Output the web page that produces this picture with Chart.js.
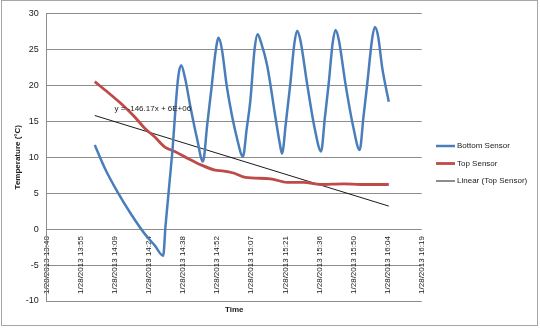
<!DOCTYPE html>
<html>
<head>
<meta charset="utf-8">
<script src="https://cdn.jsdelivr.net/npm/chart.js@4.4.0/dist/chart.umd.min.js"></script>
<style>
  html, body { margin: 0; padding: 0; background: #fff; }
  #wrap { position: relative; width: 540px; height: 329px; }
</style>
</head>
<body>
<div id="wrap"><canvas id="c" width="540" height="329"></canvas></div>
<script>
// Times are minutes after midnight on 1/28/2013.
const bottomTime = [841.1, 845.3, 851.0, 856.6, 862.3, 866.5, 870.0, 871.0, 873.8, 876.3, 877.6,
  879.3, 881.4, 884.3, 886.8, 888.6, 890.5, 892.1, 893.4, 894.8, 896.9, 901.2, 903.7,
  905.3, 906.8, 908.6, 909.9, 911.3, 913.9, 917.4, 919.2, 920.2,
  921.9, 923.7, 925.4, 926.6, 928.0, 930.8, 934.0, 936.7,
  938.3, 939.9, 941.6, 942.8, 944.2, 947.0, 950.3, 953.0,
  954.6, 956.2, 958.2, 959.4, 960.8, 962.5, 965.3];
const bottomTemp = [11.7, 8.5, 5.0, 2.0, -0.7, -2.3, -3.7, 0.5, 10.5, 21.0, 22.8,
  20.9, 17.2, 12.6, 9.4, 14.5, 19.9, 24.6, 26.6, 25.0, 19.8, 12.6, 10.1,
  14.0, 17.8, 25.0, 27.1, 26.0, 22.8, 15.6, 12.0, 10.5,
  15.0, 20.2, 25.8, 27.6, 26.2, 20.2, 14.0, 10.8,
  15.5, 20.2, 25.9, 27.7, 26.3, 20.2, 14.2, 11.0,
  15.6, 20.2, 26.3, 28.1, 26.8, 22.5, 17.7];

const topTime = [841.1, 846.7, 852.4, 858.0, 862.3, 866.5, 870.7, 874.9, 880.6, 886.2, 891.9,
  895.0, 899.7, 904.7, 915.3, 922.3, 929.3, 936.4, 946.3, 953.3, 965.3];
const topTemp = [20.5, 19.0, 17.4, 15.6, 14.0, 12.8, 11.4, 10.8, 9.8, 8.9, 8.2,
  8.1, 7.8, 7.2, 7.0, 6.5, 6.5, 6.2, 6.3, 6.2, 6.2];

// Linear trend of the top sensor (slope -146.17 per day)
const trendTime = [841.1, 965.3];
const trendTemp = [15.8, 3.2];
const equationText = 'y = -146.17x + 6E+06';
const equationAt = [849.4, 16.8];

const seriesNames = ['Bottom Sensor', 'Top Sensor', 'Linear (Top Sensor)'];
const seriesColors = ['#4a7ebb', '#be4b48', '#000000'];

const tickLabels = ['1/28/2013 13:40', '1/28/2013 13:55', '1/28/2013 14:09', '1/28/2013 14:24',
  '1/28/2013 14:38', '1/28/2013 14:52', '1/28/2013 15:07', '1/28/2013 15:21',
  '1/28/2013 15:36', '1/28/2013 15:50', '1/28/2013 16:04', '1/28/2013 16:19'];
const axisStart = 820.8;   // 13:40:48
const tickStep = 14.4;     // 0.01 day
const axisEnd = 979.2;     // 16:19:12

const FONT = "'Liberation Sans', Arial, sans-serif";
Chart.defaults.font.family = FONT;
Chart.defaults.color = '#1a1a1a';

const toPoints = (xs, ys) => xs.map((t, i) => ({ x: t, y: ys[i] }));

const decorations = {
  id: 'decorations',
  afterDraw(chart) {
    const ctx = chart.ctx;
    ctx.save();
    // outer frame
    ctx.strokeStyle = '#a6a6a6';
    ctx.lineWidth = 1;
    ctx.strokeRect(1.5, 0.5, 536, 325);
    // trendline equation
    const xs = chart.scales.x, ys = chart.scales.y;
    ctx.font = '8px ' + FONT;
    ctx.fillStyle = '#1a1a1a';
    ctx.textAlign = 'left';
    ctx.textBaseline = 'middle';
    ctx.fillText(equationText, xs.getPixelForValue(equationAt[0]), ys.getPixelForValue(equationAt[1]));
    // legend
    chart.data.datasets.forEach((ds, i) => {
      const y = 146 + i * 17.5;
      ctx.beginPath();
      ctx.strokeStyle = ds.borderColor;
      ctx.lineWidth = ds.borderWidth;
      ctx.moveTo(436, y);
      ctx.lineTo(455, y);
      ctx.stroke();
      ctx.fillText(ds.label, 457, y);
    });
    ctx.restore();
  }
};

new Chart(document.getElementById('c'), {
  type: 'line',
  data: {
    datasets: [
      { label: seriesNames[0], data: toPoints(bottomTime, bottomTemp), borderColor: seriesColors[0],
        borderWidth: 2.5, pointRadius: 0, cubicInterpolationMode: 'monotone', fill: false },
      { label: seriesNames[1], data: toPoints(topTime, topTemp), borderColor: seriesColors[1],
        borderWidth: 2.8, pointRadius: 0, cubicInterpolationMode: 'monotone', fill: false },
      { label: seriesNames[2], data: toPoints(trendTime, trendTemp), borderColor: seriesColors[2],
        borderWidth: 0.9, pointRadius: 0, tension: 0, fill: false }
    ]
  },
  options: {
    responsive: false,
    animation: false,
    devicePixelRatio: 1,
    layout: { padding: { left: 10, top: 10.5, right: 118.3, bottom: 10.4 } },
    plugins: { legend: { display: false }, tooltip: { enabled: false } },
    scales: {
      x: {
        type: 'linear', min: axisStart, max: axisEnd, position: { y: 0 },
        grid: { display: false, drawTicks: false },
        border: { display: false },
        ticks: {
          autoSkip: false, minRotation: 90, maxRotation: 90, padding: 7,
          font: { size: 8 },
          callback: (v, i) => tickLabels[i]
        },
        afterBuildTicks: s => { s.ticks = tickLabels.map((_, i) => ({ value: axisStart + i * tickStep })); }
      },
      x2: {
        type: 'linear', min: axisStart, max: axisEnd, position: 'bottom',
        grid: { display: false, drawTicks: false },
        border: { display: false },
        ticks: { display: false },
        title: { display: true, text: 'Time', font: { size: 8, weight: 'bold' }, padding: { top: 4, bottom: 4 } }
      },
      y: {
        min: -10, max: 30, position: 'left',
        ticks: { stepSize: 5, font: { size: 9 }, padding: 8 },
        grid: { color: '#8c8c8c', lineWidth: 1, drawTicks: false },
        border: { display: true, color: '#8c8c8c' },
        title: { display: true, text: 'Temperature (°C)', font: { size: 8, weight: 'bold' }, padding: { top: 3, bottom: 0 } },
        afterFit: s => { s.width = 36.7; }
      }
    }
  },
  plugins: [decorations]
});
</script>
</body>
</html>
